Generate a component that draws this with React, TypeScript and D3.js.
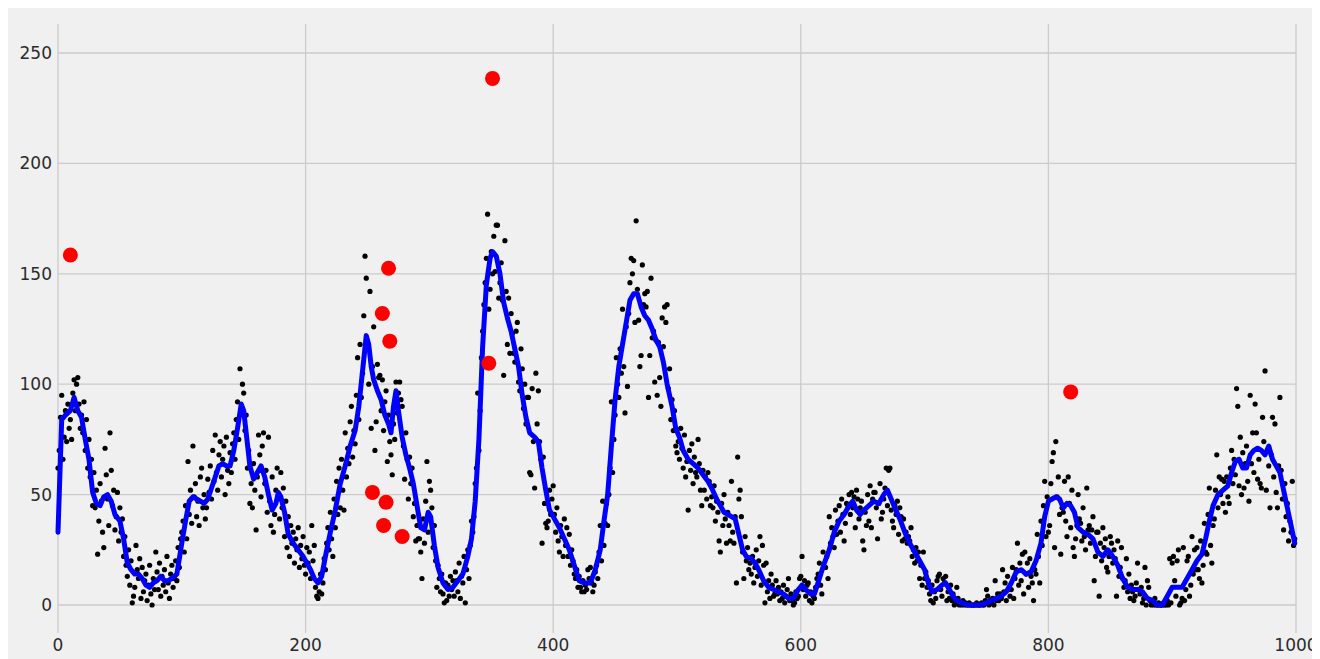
import React, { useEffect } from "react";
import * as d3 from "d3";

// one observation per x = 0..999
const scatterValues: number[] = [
  62, 70, 85, 95, 66, 76, 88, 74, 91, 80, 84, 75, 96, 102, 88, 100, 103, 91, 80, 86,
  78, 92, 70, 84, 62, 75, 58, 66, 45, 60, 44, 52, 23, 38, 55, 47, 33, 26, 71, 59,
  48, 36, 78, 61, 45, 52, 34, 40, 51, 29, 44, 33, 39, 22, 31, 18, 13, 25, 9, 20,
  1, 4, 8, 27, 16, 12, 21, 3, 17, 6, 11, 14, 2, 9, 18, 5, 0, 12, 7, 24,
  15, 7, 19, 4, 13, 9, 16, 6, 22, 10, 3, 14, 18, 8, 12, 20, 11, 26, 17, 30,
  33, 38, 24, 45, 30, 65, 41, 52, 37, 72, 49, 55, 40, 47, 36, 58, 62, 44, 50, 39,
  44, 57, 51, 63, 48, 70, 56, 77, 60, 52, 68, 74, 58, 66, 72, 50, 76, 61, 55, 69,
  60, 73, 78, 66, 84, 92, 75, 107, 88, 100, 96, 79, 86, 62, 70, 46, 55, 44, 64, 52,
  34, 58, 77, 68, 49, 72, 78, 55, 61, 42, 76, 47, 36, 58, 33, 41, 52, 62, 48, 39,
  60, 44, 53, 31, 47, 26, 40, 22, 36, 28, 33, 19, 30, 25, 35, 17, 27, 21, 31, 18,
  14, 26, 19, 24, 12, 36, 20, 27, 8, 4, 3, 6, 14, 5, 10, 21, 16, 28, 35, 25,
  42, 30, 22, 48, 35, 56, 41, 62, 44, 66, 52, 43, 78, 58, 71, 64, 83, 90, 67, 79,
  73, 95, 112, 84, 118, 94, 105, 131, 158, 148, 116, 100, 142, 80, 108, 126, 70, 83, 109, 103,
  104, 88, 102, 79, 92, 97, 65, 86, 74, 68, 59, 82, 75, 101, 87, 96, 101, 93, 90, 72,
  57, 78, 66, 48, 67, 55, 62, 40, 46, 29, 36, 30, 30, 24, 12, 39, 28, 47, 65, 33,
  56, 52, 44, 26, 36, 20, 8, 18, 12, 6, 14, 5, 1, 10, 2, 9, 4, 13, 7, 11,
  4, 15, 11, 6, 19, 3, 13, 10, 22, 1, 16, 25, 12, 27, 38, 33, 40, 55, 62, 96,
  70, 88, 112, 124, 136, 146, 157, 177, 134, 143, 160, 150, 167, 151, 172, 172, 139, 146, 155, 138,
  104, 165, 142, 118, 139, 114, 132, 123, 114, 110, 124, 128, 101, 97, 116, 107, 89, 100, 82, 94,
  94, 60, 59, 98, 74, 53, 105, 82, 97, 74, 66, 28, 67, 46, 37, 35, 38, 52, 41, 48,
  54, 41, 33, 44, 29, 24, 36, 31, 22, 39, 27, 35, 22, 32, 18, 25, 20, 14, 12, 16,
  8, 13, 8, 6, 11, 6, 9, 7, 16, 12, 17, 10, 6, 9, 15, 18, 12, 24, 36, 20,
  47, 27, 37, 46, 36, 50, 62, 92, 60, 75, 86, 112, 100, 94, 116, 105, 134, 108, 87, 126,
  99, 132, 146, 157, 150, 156, 128, 174, 143, 129, 108, 113, 154, 136, 141, 135, 142, 94, 113, 148,
  121, 124, 101, 120, 95, 119, 103, 90, 130, 117, 135, 128, 136, 98, 107, 84, 93, 79, 88, 72,
  69, 74, 66, 80, 71, 62, 77, 58, 65, 43, 70, 61, 73, 55, 67, 60, 58, 75, 64, 52,
  45, 61, 52, 58, 48, 60, 56, 45, 49, 44, 54, 38, 47, 42, 29, 24, 46, 36, 50, 39,
  28, 42, 36, 29, 56, 33, 28, 40, 10, 67, 48, 52, 40, 24, 12, 31, 20, 26, 16, 19,
  14, 22, 10, 17, 25, 13, 20, 31, 9, 27, 18, 1, 19, 6, 11, 3, 14, 9, 4, 5,
  11, 5, 8, 2, 6, 3, 9, 1, 4, 7, 12, 2, 5, 2, 0, 1, 6, 3, 4, 12,
  13, 22, 7, 11, 4, 9, 10, 2, 6, 1, 4, 3, 8, 12, 14, 19, 9, 5, 24, 17,
  17, 22, 12, 40, 28, 35, 31, 26, 43, 32, 38, 45, 33, 48, 41, 29, 37, 46, 44, 50,
  41, 51, 44, 49, 35, 52, 48, 39, 44, 47, 29, 25, 42, 36, 50, 38, 54, 35, 48, 51,
  51, 44, 30, 46, 55, 39, 42, 48, 53, 62, 45, 61, 62, 43, 38, 35, 45, 41, 47, 32,
  44, 40, 29, 39, 30, 33, 28, 31, 29, 35, 22, 25, 19, 26, 20, 24, 12, 18, 9, 24,
  12, 15, 8, 11, 5, 2, 9, 1, 6, 3, 11, 13, 14, 7, 4, 12, 10, 13, 2, 6,
  3, 9, 2, 5, 0, 1, 8, 3, 0, 1, 0, 2, 0, 1, 0, 0, 1, 0, 0, 0,
  0, 0, 1, 0, 0, 0, 1, 0, 0, 2, 7, 4, 0, 2, 1, 3, 0, 11, 2, 5,
  2, 5, 3, 16, 6, 10, 2, 13, 7, 4, 7, 17, 3, 12, 16, 28, 9, 19, 11, 23,
  5, 24, 14, 19, 8, 21, 13, 10, 2, 16, 14, 32, 22, 10, 38, 27, 45, 56, 31, 49,
  33, 36, 55, 65, 69, 26, 74, 49, 58, 41, 23, 44, 42, 56, 38, 31, 58, 46, 35, 52,
  26, 22, 30, 36, 50, 39, 37, 29, 44, 31, 25, 53, 34, 36, 28, 34, 40, 11, 22, 33,
  33, 4, 28, 20, 35, 26, 30, 17, 15, 22, 31, 28, 19, 25, 21, 4, 29, 13, 17, 26,
  12, 8, 11, 21, 6, 14, 3, 9, 6, 2, 4, 10, 19, 7, 5, 8, 1, 3, 17, 0,
  11, 8, 2, 0, 1, 0, 3, 0, 0, 1, 0, 0, 0, 1, 0, 0, 2, 0, 21, 1,
  19, 22, 11, 4, 20, 25, 0, 1, 3, 26, 2, 7, 20, 22, 4, 9, 31, 14, 25, 16,
  26, 16, 12, 29, 10, 18, 37, 24, 23, 41, 53, 27, 19, 36, 39, 52, 68, 44, 58, 50,
  57, 46, 56, 42, 58, 49, 46, 62, 70, 55, 66, 59, 98, 90, 54, 76, 50, 69, 53, 64,
  72, 56, 47, 95, 64, 78, 60, 91, 78, 57, 66, 55, 53, 85, 74, 106, 52, 70, 63, 44,
  68, 85, 58, 82, 51, 44, 63, 94, 61, 48, 34, 55, 40, 46, 29, 38, 33, 56, 27, 30,
];

// rolling mean
const meanX: number[] = [
  0, 3, 6, 10, 13, 16, 19, 22, 25, 28, 31, 34, 37, 40, 43, 46, 50, 53, 56, 59,
  62, 65, 68, 71, 74, 77, 80, 83, 86, 89, 92, 96, 100, 103, 106, 109, 112, 115, 118, 121,
  124, 127, 130, 133, 136, 139, 142, 145, 148, 150, 152, 155, 158, 161, 164, 167, 170, 173, 176, 178,
  180, 183, 186, 190, 194, 198, 201, 204, 207, 210, 213, 216, 220, 224, 228, 232, 236, 240, 243, 246,
  249, 251, 253, 255, 258, 261, 264, 267, 269, 271, 273, 275, 278, 281, 284, 287, 290, 293, 296, 299,
  301, 304, 307, 311, 315, 319, 323, 327, 331, 334, 337, 340, 343, 346, 349, 351, 354, 357, 360, 363,
  366, 369, 372, 375, 378, 381, 385, 388, 391, 394, 397, 401, 405, 409, 413, 417, 421, 425, 430, 434,
  438, 441, 444, 447, 450, 453, 456, 459, 462, 465, 468, 471, 474, 477, 480, 483, 486, 489, 492, 496,
  499, 502, 505, 509, 513, 517, 521, 525, 528, 532, 535, 538, 541, 544, 547, 550, 553, 556, 560, 563,
  566, 570, 574, 578, 582, 586, 590, 594, 598, 601, 604, 608, 611, 615, 619, 623, 627, 631, 635, 639,
  642, 645, 648, 651, 655, 659, 663, 667, 670, 673, 676, 680, 684, 688, 692, 696, 700, 703, 706, 710,
  714, 717, 720, 723, 726, 730, 735, 740, 745, 750, 754, 758, 762, 766, 770, 774, 778, 782, 786, 790,
  794, 797, 800, 803, 806, 809, 812, 815, 818, 821, 824, 828, 832, 836, 840, 844, 848, 852, 856, 860,
  864, 868, 872, 876, 880, 884, 888, 892, 896, 900, 904, 908, 912, 916, 920, 924, 927, 930, 933, 937,
  941, 945, 948, 951, 954, 957, 960, 963, 966, 969, 972, 975, 978, 981, 984, 987, 990, 993, 996, 999,
];
const meanY: number[] = [
  33, 84, 86, 88, 94, 88, 85, 75, 66, 51, 46, 45, 49, 50, 47, 41, 38, 30, 19, 16,
  14, 14, 12, 9, 8, 10, 11, 13, 11, 11, 12, 14, 28, 38, 47, 49, 48, 47, 46, 48,
  53, 58, 63, 64, 63, 63, 70, 80, 91, 88, 78, 63, 57, 60, 63, 58, 50, 43, 46, 51,
  49, 42, 32, 28, 25, 22, 19, 16, 12, 10, 13, 22, 33, 43, 55, 63, 72, 79, 90, 106,
  122, 118, 108, 102, 97, 93, 86, 82, 78, 90, 97, 88, 76, 68, 62, 55, 45, 35, 34, 42,
  40, 27, 17, 10, 7, 8, 11, 14, 22, 30, 47, 75, 117, 145, 157, 160, 158, 150, 137, 130,
  124, 116, 108, 95, 85, 78, 76, 74, 62, 52, 43, 39, 35, 30, 25, 18, 11, 10, 10, 16,
  25, 38, 50, 72, 93, 108, 118, 128, 138, 141, 141, 135, 131, 129, 125, 120, 117, 110, 100, 90,
  80, 76, 70, 66, 64, 62, 59, 56, 53, 48, 45, 42, 41, 40, 39, 32, 25, 22, 21, 19,
  16, 11, 8, 7, 6, 5, 3, 3, 7, 9, 7, 5, 5, 12, 19, 25, 33, 38, 41, 45,
  47, 43, 41, 43, 45, 47, 46, 50, 52, 48, 44, 39, 33, 28, 24, 20, 16, 10, 6, 7,
  9, 10, 7, 4, 2, 1, 0, 0, 0, 1, 2, 3, 4, 6, 10, 15, 16, 14, 15, 20,
  28, 40, 47, 48, 49, 48, 44, 46, 45, 42, 35, 33, 32, 30, 24, 22, 25, 22, 18, 12,
  8, 7, 7, 6, 3, 2, 0, 0, 4, 8, 8, 8, 12, 16, 20, 23, 30, 38, 45, 50,
  52, 54, 60, 65, 66, 62, 62, 68, 70, 71, 70, 68, 72, 66, 63, 60, 52, 44, 36, 28,
];

// points flagged as anomalies
const outlierX: number[] = [10, 254, 262, 263, 265, 267, 268, 278, 348, 351, 818];
const outlierY: number[] = [158.5, 51, 132, 36, 46.5, 152.5, 119.5, 31, 109.5, 238.5, 96.5];

const xTicks = [0, 200, 400, 600, 800, 1000];
const yTicks = [0, 50, 100, 150, 200, 250];

const width = 1320;
const height = 651;
const plotTop = 16;
const plotBottom = 625;

export default function App() {
  useEffect(() => {
    document.documentElement.style.overflow = "hidden";
    document.body.style.overflow = "hidden";
  }, []);

  const x = d3.scaleLinear().domain([0, 1000]).range([50, 1288]);
  const y = d3.scaleLinear().domain([0, 250]).range([597, 45]);

  const meanPts: [number, number][] = meanX.map((d, i) => [d, meanY[i]]);
  const line = d3
    .line<[number, number]>()
    .x((d) => x(d[0]))
    .y((d) => y(d[1]));

  const font = "'DejaVu Sans', sans-serif";

  return (
    <svg width={width} height={height} style={{ display: "block", overflow: "visible" }}>
      <rect width={width} height={height} fill="#f0f0f0" />
      {/* grid */}
      {yTicks.map((t) => (
        <line key={"gy" + t} x1={x(0)} x2={x(1000)} y1={y(t)} y2={y(t)} stroke="#cbcbcb" strokeWidth={1.3} />
      ))}
      {xTicks.map((t) => (
        <line key={"gx" + t} x1={x(t)} x2={x(t)} y1={plotTop} y2={plotBottom} stroke="#cbcbcb" strokeWidth={1.3} />
      ))}
      {/* scatter */}
      {scatterValues.map((v, i) => (
        <circle key={"s" + i} cx={x(i)} cy={y(v)} r={2.6} fill="#000" />
      ))}
      {/* rolling mean */}
      <path d={line(meanPts) || ""} fill="none" stroke="#0000ff" strokeWidth={5} strokeLinejoin="round" strokeLinecap="round" />
      {/* anomalies */}
      {outlierX.map((d, i) => (
        <circle key={"o" + i} cx={x(d)} cy={y(outlierY[i])} r={7.5} fill="#ff0000" />
      ))}
      {/* tick labels */}
      {yTicks.map((t) => (
        <text key={"ly" + t} x={44} y={y(t)} textAnchor="end" dominantBaseline="central" fontFamily={font} fontSize={17} fill="#2b2b2b">
          {t}
        </text>
      ))}
      {xTicks.map((t) => (
        <text key={"lx" + t} x={x(t)} y={637} textAnchor="middle" dominantBaseline="central" fontFamily={font} fontSize={17} fill="#2b2b2b">
          {t}
        </text>
      ))}
    </svg>
  );
}
